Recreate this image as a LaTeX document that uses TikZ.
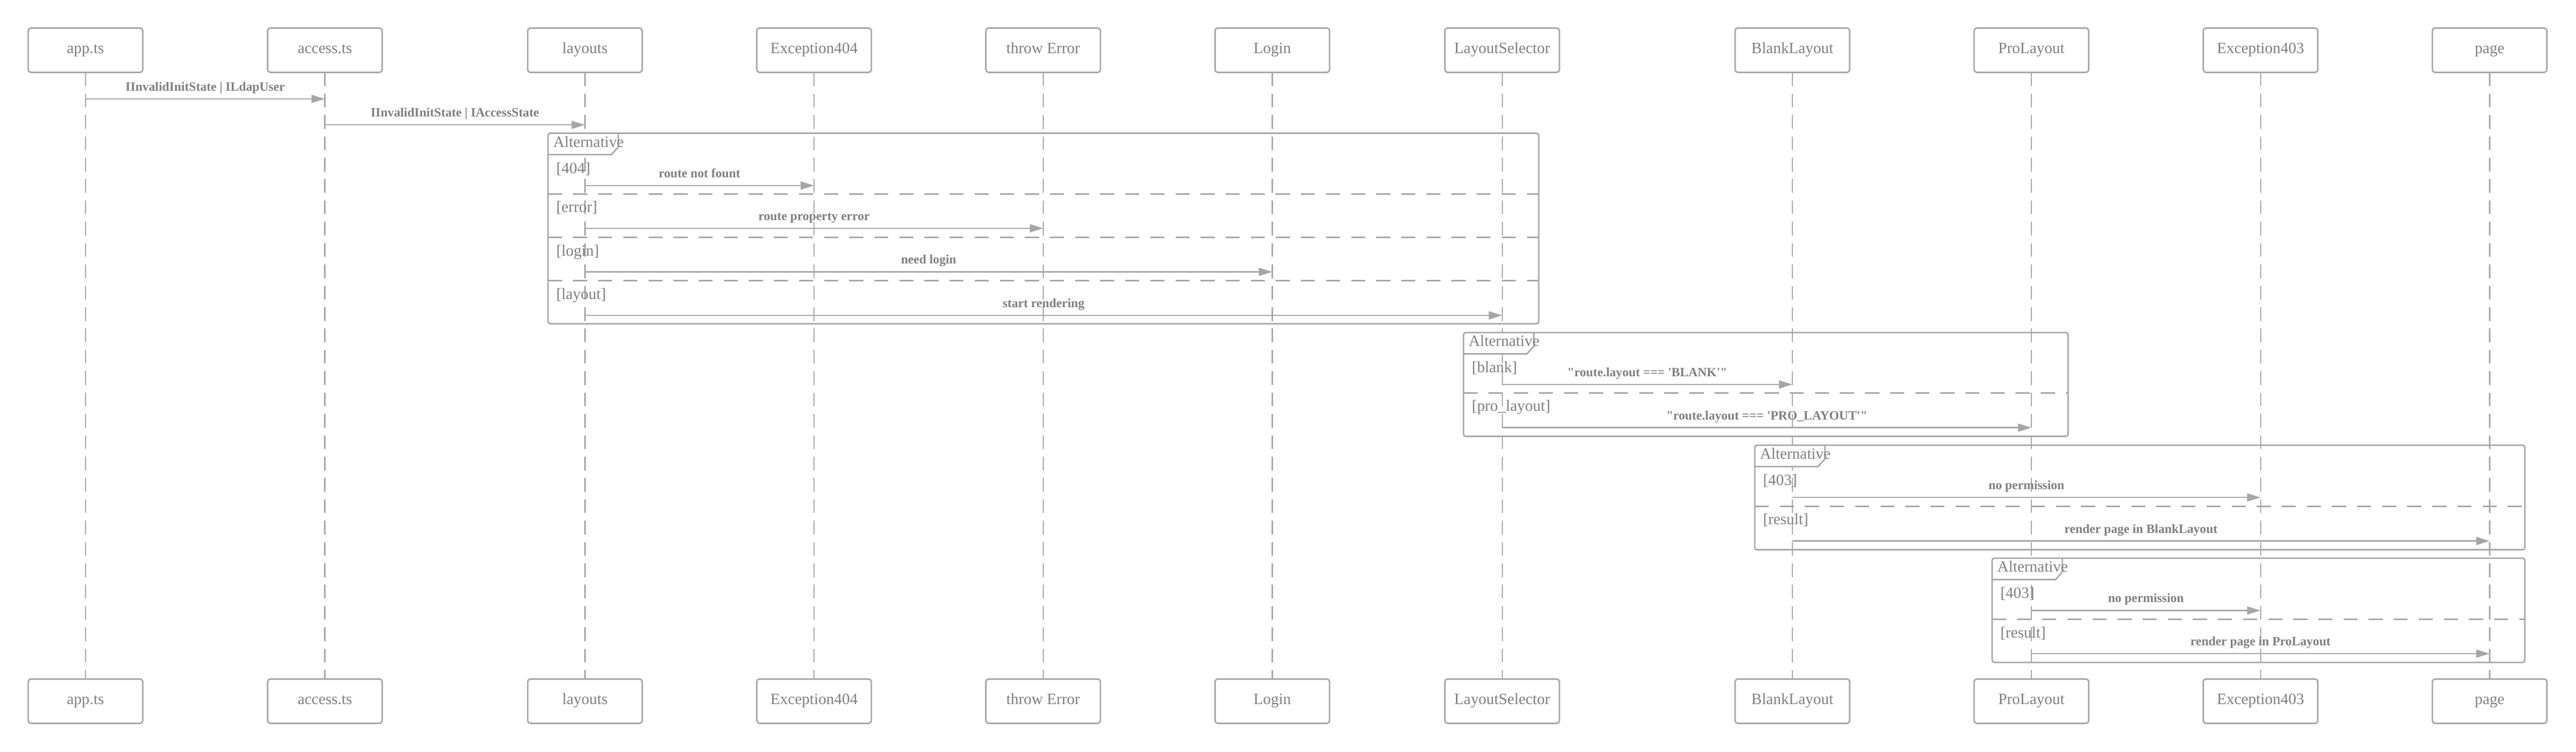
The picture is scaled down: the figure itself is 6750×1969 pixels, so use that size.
\documentclass[tikz,border=0pt]{standalone}
\usepackage{fontspec}
\setmainfont{Liberation Serif}[Ligatures=TeXOff]
\usepackage{tikz}
\usetikzlibrary{positioning,arrows.meta}
\definecolor{linegray}{RGB}{166,166,166}
\definecolor{textgray}{RGB}{128,128,128}

\begin{document}
\begin{tikzpicture}[
        x=0.01cm, y=-0.01cm,
        >={Triangle[length=10pt,width=6pt]},
        actor/.style={draw=linegray, line width=1.1pt, rounded corners=2pt, fill=white, text=textgray, outer sep=0pt,
                      minimum width=3cm, minimum height=1.16cm, text height=0.7em, text depth=0.22em,
                      font=\fontsize{11.7}{14}\selectfont},
        life/.style={draw=linegray, line width=0.9pt, dash pattern=on 10.2pt off 5.7pt},
        msg/.style={draw=linegray, line width=0.9pt},
        msgtext/.style={text=textgray, font=\bfseries\fontsize{9.45}{11}\selectfont, anchor=base, yshift=0.21cm, inner sep=0pt},
        altbox/.style={draw=linegray, line width=1.1pt, rounded corners=1.7pt},
        altsep/.style={draw=linegray, line width=1.1pt, dash pattern=on 10.5pt off 8.2pt},
        guard/.style={text=textgray, font=\fontsize{11.7}{14}\selectfont, anchor=base west, inner sep=0pt}
        ]
        \useasboundingbox (0,0) rectangle (6750,1969);

        % participants
        \node[actor] (app) at (224,131.5) {app.ts};
        \node[actor] (access) [right=3.27cm of app] {access.ts};
        \node[actor] (layouts) [right=3.81cm of access] {layouts};
        \node[actor] (e404) [right=3cm of layouts] {Exception404};
        \node[actor] (throwerr) [right=3cm of e404] {throw Error};
        \node[actor] (login) [right=3cm of throwerr] {Login};
        \node[actor] (selector) [right=3.02cm of login] {LayoutSelector};
        \node[actor] (blank) [right=4.6cm of selector] {BlankLayout};
        \node[actor] (pro) [right=3.26cm of blank] {ProLayout};
        \node[actor] (e403) [right=3cm of pro] {Exception403};
        \node[actor] (page) [right=3cm of e403] {page};

        \node[actor] (appB) [below=15.88cm of app] {app.ts};
        \node[actor] (accessB) [below=15.88cm of access] {access.ts};
        \node[actor] (layoutsB) [below=15.88cm of layouts] {layouts};
        \node[actor] (e404B) [below=15.88cm of e404] {Exception404};
        \node[actor] (throwerrB) [below=15.88cm of throwerr] {throw Error};
        \node[actor] (loginB) [below=15.88cm of login] {Login};
        \node[actor] (selectorB) [below=15.88cm of selector] {LayoutSelector};
        \node[actor] (blankB) [below=15.88cm of blank] {BlankLayout};
        \node[actor] (proB) [below=15.88cm of pro] {ProLayout};
        \node[actor] (e403B) [below=15.88cm of e403] {Exception403};
        \node[actor] (pageB) [below=15.88cm of page] {page};

        % lifelines
        \path (app) edge[life] (appB)
              (access) edge[life] (accessB)
              (layouts) edge[life] (layoutsB)
              (e404) edge[life] (e404B)
              (throwerr) edge[life] (throwerrB)
              (login) edge[life] (loginB)
              (selector) edge[life] (selectorB)
              (blank) edge[life] (blankB)
              (pro) edge[life] (proB)
              (e403) edge[life] (e403B)
              (page) edge[life] (pageB);

        % alt frames
        \fill[white] (1436,349) -- (1620,349) -- (1620,385) -- (1602,405) -- (1436,405) -- cycle;
        \draw[altbox] (1436,349) rectangle (4032,848);
        \draw[altbox, rounded corners=0pt] (1620,349) -- (1620,385) -- (1602,405) -- (1436,405);
        \draw[altsep] (1436,508) -- (4032,508);
        \draw[altsep] (1436,622) -- (4032,622);
        \draw[altsep] (1436,735) -- (4032,735);

        \fill[white] (3835,871) -- (4019,871) -- (4019,907) -- (4001,927) -- (3835,927) -- cycle;
        \draw[altbox] (3835,871) rectangle (5419,1143);
        \draw[altbox, rounded corners=0pt] (4019,871) -- (4019,907) -- (4001,927) -- (3835,927);
        \draw[altsep] (3835,1029) -- (5419,1029);

        \fill[white] (4598,1166) -- (4782,1166) -- (4782,1202) -- (4764,1222) -- (4598,1222) -- cycle;
        \draw[altbox] (4598,1166) rectangle (6616,1440);
        \draw[altbox, rounded corners=0pt] (4782,1166) -- (4782,1202) -- (4764,1222) -- (4598,1222);
        \draw[altsep] (4598,1326) -- (6616,1326);

        \fill[white] (5220,1462) -- (5404,1462) -- (5404,1498) -- (5386,1518) -- (5220,1518) -- cycle;
        \draw[altbox] (5220,1462) rectangle (6616,1735);
        \draw[altbox, rounded corners=0pt] (5404,1462) -- (5404,1498) -- (5386,1518) -- (5220,1518);
        \draw[altsep] (5220,1622) -- (6616,1622);

        \node[guard] (alt1) at (1449,385) {Alternative};
        \node[guard] (alt2) at (3848,907) {Alternative};
        \node[guard] (alt3) at (4611,1202) {Alternative};
        \node[guard] (alt4) at (5233,1498) {Alternative};

        \node[guard] (g404) at (1457,454) {[404]};
        \node[guard] (gerror) at (1457,556) {[error]};
        \node[guard] (glogin) at (1457,670) {[login]};
        \node[guard] (glayout) at (1457,783) {[layout]};
        \node[guard] (gblank) at (3856,975) {[blank]};
        \node[guard] (gpro) at (3856,1077) {[pro\_layout]};
        \node[guard] (g403a) at (4619,1271) {[403]};
        \node[guard] (gresa) at (4619,1374) {[result]};
        \node[guard] (g403b) at (5241,1567) {[403]};
        \node[guard] (gresb) at (5241,1670) {[result]};

        % messages
        \path[->]
              (app |- 0,259) edge[msg] node[msgtext] {IInvalidInitState | ILdapUser} (access |- 0,259)
              (access |- 0,327) edge[msg] node[msgtext] {IInvalidInitState | IAccessState} (layouts |- 0,327)

              (layouts |- 0,486) edge[msg] node[msgtext] {route not fount} (e404 |- 0,486)
              (layouts |- 0,598) edge[msg] node[msgtext] {route property error} (throwerr |- 0,598)
              (layouts |- 0,712) edge[msg] node[msgtext] {need login} (login |- 0,712)
              (layouts |- 0,826) edge[msg] node[msgtext] {start rendering} (selector |- 0,826)

              (selector |- 0,1007) edge[msg] node[msgtext] {"route.layout === 'BLANK'"} (blank |- 0,1007)
              (selector |- 0,1120) edge[msg] node[msgtext] {"route.layout === 'PRO\_LAYOUT'"} (pro |- 0,1120)

              (blank |- 0,1303) edge[msg] node[msgtext] {no permission} (e403 |- 0,1303)
              (blank |- 0,1417) edge[msg] node[msgtext] {render page in BlankLayout} (page |- 0,1417)

              (pro |- 0,1599) edge[msg] node[msgtext] {no permission} (e403 |- 0,1599)
              (pro |- 0,1712) edge[msg] node[msgtext] {render page in ProLayout} (page |- 0,1712);
\end{tikzpicture}
\end{document}
